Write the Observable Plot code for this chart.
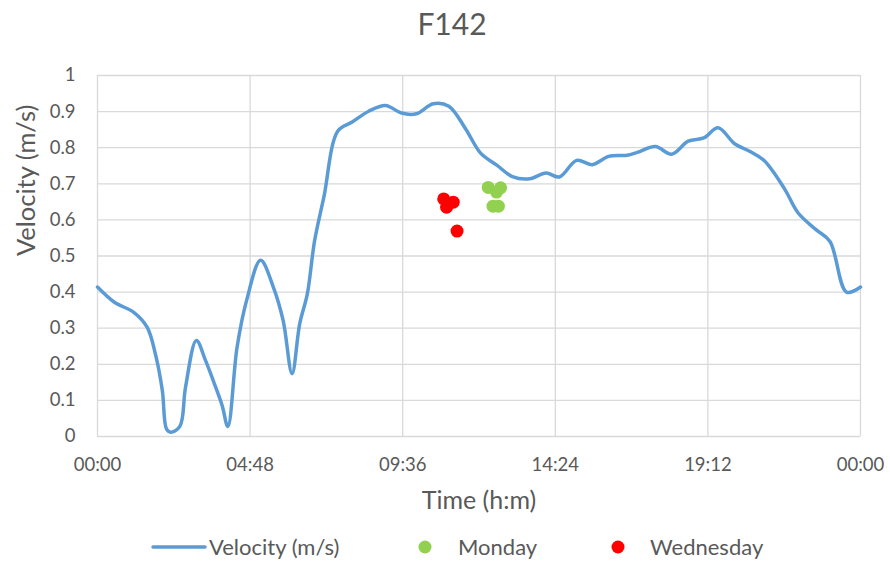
<!DOCTYPE html>
<html>
<head>
<meta charset="utf-8">
<script src="https://cdn.jsdelivr.net/npm/d3@7"></script>
<script src="https://cdn.jsdelivr.net/npm/@observablehq/plot@0.6"></script>
<style>
  body { margin: 0; background: #fff; font-family: Lato, "Liberation Sans", sans-serif; color: #595959; }
  #chart { width: 890px; height: 563px; overflow: hidden; }
  .title { height: 50px; line-height: 46px; text-align: center; font-size: 30px; padding-left: 14px; box-sizing: border-box; }
  .legend { height: 33px; padding-top: 10px; display: flex; align-items: center; font-size: 22px; }
  .legend .item { position: absolute; display: flex; align-items: center; }
  .legend svg { display: block; }
</style>
</head>
<body>
<div id="chart"></div>
<script>
// Velocity through the day (hours since midnight, m/s)
const hours = [0.00, 0.53, 1.14, 1.56, 1.82, 2.04, 2.17, 2.30, 2.59, 2.77, 3.11, 3.40, 3.66, 3.92, 4.10,
  4.39, 4.69, 5.13, 5.53, 5.84, 6.12, 6.36, 6.60, 6.83, 7.12, 7.56, 8.01, 8.53, 9.06, 9.56, 10.03,
  10.56, 11.05, 11.58, 12.05, 12.57, 13.05, 13.59, 14.11, 14.53, 15.07, 15.56, 16.08, 16.66, 16.98,
  17.55, 18.06, 18.58, 19.07, 19.52, 20.04, 20.51, 20.96, 21.61, 22.04, 22.60, 23.04, 23.56, 24.00];
const velocity = [0.414, 0.372, 0.344, 0.303, 0.229, 0.127, 0.021, 0.012, 0.028, 0.137, 0.266, 0.210, 0.150, 0.086, 0.028,
  0.247, 0.377, 0.488, 0.414, 0.321, 0.174, 0.312, 0.395, 0.543, 0.663, 0.846, 0.871, 0.901, 0.917, 0.896, 0.894,
  0.922, 0.915, 0.852, 0.785, 0.751, 0.720, 0.714, 0.730, 0.719, 0.765, 0.753, 0.776, 0.779, 0.787,
  0.803, 0.782, 0.818, 0.827, 0.855, 0.811, 0.790, 0.765, 0.686, 0.619, 0.573, 0.540, 0.400, 0.414];

// Spot measurements
const mondayHours = [12.29, 12.55, 12.68, 12.44, 12.61];
const mondayVelocity = [0.690, 0.677, 0.689, 0.638, 0.638];
const wednesdayHours = [10.89, 10.98, 11.19, 11.31];
const wednesdayVelocity = [0.658, 0.635, 0.649, 0.569];

// Axes
const xTicks = [0, 4.8, 9.6, 14.4, 19.2, 24];
const xTickLabels = ["00:00", "04:48", "09:36", "14:24", "19:12", "00:00"];
const yTicks = [0, 0.1, 0.2, 0.3, 0.4, 0.5, 0.6, 0.7, 0.8, 0.9, 1];
const yTickLabels = ["0", "0.1", "0.2", "0.3", "0.4", "0.5", "0.6", "0.7", "0.8", "0.9", "1"];

const title = "F142";
const xLabel = "Time (h:m)";
const yLabel = "Velocity (m/s)";
const seriesNames = ["Velocity (m/s)", "Monday", "Wednesday"];
const colors = { line: "#5B9BD5", monday: "#92D050", wednesday: "#FF0000" };

const lineData = hours.map((h, i) => ({ h, v: velocity[i] }));
const monday = mondayHours.map((h, i) => ({ h, v: mondayVelocity[i] }));
const wednesday = wednesdayHours.map((h, i) => ({ h, v: wednesdayVelocity[i] }));

const grid = "#d9d9d9";
const text = "#595959";

const plot = Plot.plot({
  width: 890,
  height: 470,
  marginTop: 25,
  marginBottom: 84,
  marginLeft: 97,
  marginRight: 30,
  style: { fontFamily: "Lato, 'Liberation Sans', sans-serif", fontSize: "18.5px", color: text, background: "#fff", overflow: "visible" },
  x: { domain: [0, 24] },
  y: { domain: [0, 1] },
  marks: [
    Plot.gridX(xTicks, { stroke: grid, strokeOpacity: 1, strokeWidth: 1.3 }),
    Plot.gridY(yTicks, { stroke: grid, strokeOpacity: 1, strokeWidth: 1.3 }),
    Plot.axisX(xTicks, { tickSize: 0, tickPadding: 21, fill: text, label: null,
      tickFormat: d => xTickLabels[xTicks.indexOf(d)] }),
    Plot.axisY(yTicks, { tickSize: 0, tickPadding: 22, fill: text, label: null,
      tickFormat: d => yTickLabels[yTicks.indexOf(d)] }),
    Plot.text([xLabel], { frameAnchor: "bottom", dy: 72, fontSize: 25, fill: text }),
    Plot.text([yLabel], { frameAnchor: "left", dx: -71, rotate: -90, fontSize: 25.5, fill: text }),
    Plot.line(lineData, { x: "h", y: "v", stroke: colors.line, strokeWidth: 3.5, curve: "catmull-rom",
      strokeLinejoin: "round", strokeLinecap: "round" }),
    Plot.dot(monday, { x: "h", y: "v", r: 6.5, fill: colors.monday, stroke: null }),
    Plot.dot(wednesday, { x: "h", y: "v", r: 6.5, fill: colors.wednesday, stroke: null })
  ]
});

const chart = document.getElementById("chart");
const titleDiv = document.createElement("div");
titleDiv.className = "title";
titleDiv.textContent = title;
chart.appendChild(titleDiv);
chart.appendChild(plot);

// Legend below the chart
const legend = document.createElement("div");
legend.className = "legend";
legend.style.position = "relative";
const ns = "http://www.w3.org/2000/svg";
function swatch(kind, color) {
  const s = document.createElementNS(ns, "svg");
  if (kind === "line") {
    s.setAttribute("width", 56); s.setAttribute("height", 10);
    const l = document.createElementNS(ns, "line");
    l.setAttribute("x1", 2); l.setAttribute("x2", 54); l.setAttribute("y1", 5); l.setAttribute("y2", 5);
    l.setAttribute("stroke", color); l.setAttribute("stroke-width", 3.5); l.setAttribute("stroke-linecap", "round");
    s.appendChild(l);
  } else {
    s.setAttribute("width", 14); s.setAttribute("height", 14);
    const c = document.createElementNS(ns, "circle");
    c.setAttribute("cx", 7); c.setAttribute("cy", 7); c.setAttribute("r", 6.5); c.setAttribute("fill", color);
    s.appendChild(c);
  }
  return s;
}
const items = [
  { kind: "line", color: colors.line, name: seriesNames[0], left: 151, gap: 2 },
  { kind: "dot", color: colors.monday, name: seriesNames[1], left: 418, gap: 26 },
  { kind: "dot", color: colors.wednesday, name: seriesNames[2], left: 611, gap: 25 }
];
for (const it of items) {
  const d = document.createElement("div");
  d.className = "item";
  d.style.left = it.left + "px";
  const sp = document.createElement("span");
  sp.textContent = it.name;
  sp.style.marginLeft = it.gap + "px";
  d.appendChild(swatch(it.kind, it.color));
  d.appendChild(sp);
  legend.appendChild(d);
}
chart.appendChild(legend);
</script>
</body>
</html>
